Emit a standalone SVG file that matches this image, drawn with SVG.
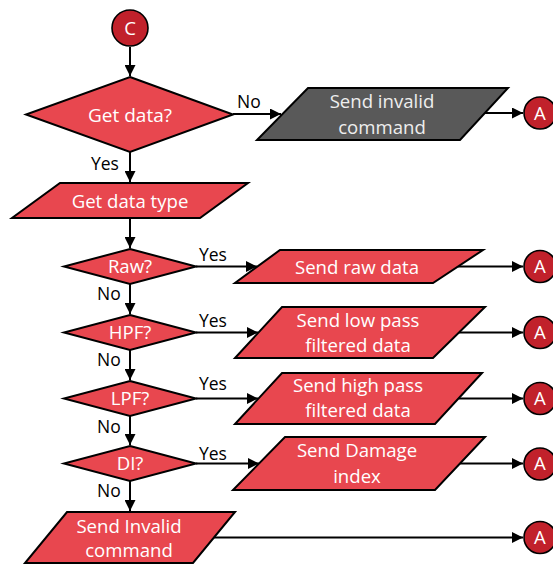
<svg xmlns="http://www.w3.org/2000/svg" width="553" height="567" viewBox="0 0 553 567">
  <style>
    .shape { fill: #E8474F; stroke: #000; stroke-width: 2; stroke-linejoin: miter; }
    .grey { fill: #595959; stroke: #000; stroke-width: 2; }
    .conn { fill: #C1212B; stroke: #000; stroke-width: 1.6; }
    .t { font-family: "Open Sans", "Noto Sans", sans-serif; font-size: 18.6px; fill: #fff; text-anchor: middle; }
    .tg { fill: #eeeeee; }
    .lbl { font-family: "Open Sans", "Noto Sans", sans-serif; font-size: 17.5px; fill: #000; }
    .edge { stroke: #000; stroke-width: 2; fill: none; marker-end: url(#ah); }
  </style>
  <defs>
    <marker id="ah" viewBox="0 0 10 10" refX="10" refY="5" markerWidth="5.5" markerHeight="5.5" orient="auto" markerUnits="strokeWidth">
      <path d="M0,0 L10,5 L0,10 z" fill="#000"/>
    </marker>
  </defs>
  <rect width="553" height="567" fill="#fff"/>

  <!-- connectors -->
  <g id="connectors">
    <path class="edge" d="M130,47 V76"/>
    <path class="edge" d="M233,114 H281"/>
    <path class="edge" d="M484,113 H523"/>
    <path class="edge" d="M130,152 V182"/>
    <path class="edge" d="M130,218 V248"/>
    <path class="edge" d="M196,266.5 H257"/>
    <path class="edge" d="M458,266.5 H523"/>
    <path class="edge" d="M130,284 V314"/>
    <path class="edge" d="M196,332.5 H258"/>
    <path class="edge" d="M459,332.5 H523"/>
    <path class="edge" d="M130,350 V380"/>
    <path class="edge" d="M196,398.5 H258"/>
    <path class="edge" d="M459,398.5 H523"/>
    <path class="edge" d="M130,416 V445"/>
    <path class="edge" d="M196,463.5 H259"/>
    <path class="edge" d="M460,463.5 H523"/>
    <path class="edge" d="M130,481 V511"/>
    <path class="edge" d="M214,537.5 H523"/>
    <text class="lbl" x="237" y="108">No</text>
    <text class="lbl" x="91" y="170">Yes</text>
    <text class="lbl" x="199" y="261">Yes</text>
    <text class="lbl" x="97" y="300">No</text>
    <text class="lbl" x="199" y="327">Yes</text>
    <text class="lbl" x="97" y="366">No</text>
    <text class="lbl" x="199" y="390">Yes</text>
    <text class="lbl" x="97" y="433">No</text>
    <text class="lbl" x="199" y="460">Yes</text>
    <text class="lbl" x="97" y="497">No</text>
  </g>

  <g id="start-c">
    <circle class="conn" cx="130" cy="28" r="18"/>
    <text class="t" x="130" y="35">C</text>
  </g>

  <g id="get-data">
    <polygon class="shape" points="130,77 233,114.5 130,152 26,114.5"/>
    <text class="t" x="130" y="122" style="font-size:19px">Get data?</text>
  </g>

  <g id="send-invalid-grey">
    <polygon class="grey" points="308,88 508,88 460,140 257,140"/>
    <text class="t tg" x="382" y="108">Send invalid</text>
    <text class="t tg" x="382" y="134">command</text>
  </g>

  <g id="get-data-type">
    <polygon class="shape" points="60,183 248,183 200,218 12,218"/>
    <text class="t" x="130" y="208">Get data type</text>
  </g>

  <g id="raw">
    <polygon class="shape" points="130,249 196,266.5 130,284 64,266.5"/>
    <text class="t" x="130" y="273">Raw?</text>
  </g>
  <g id="send-raw">
    <polygon class="shape" points="280,250 483,250 433,283 235,283"/>
    <text class="t" x="357" y="274">Send raw data</text>
  </g>

  <g id="hpf">
    <polygon class="shape" points="130,315 196,332.5 130,350 64,332.5"/>
    <text class="t" x="130" y="339">HPF?</text>
  </g>
  <g id="send-low-pass">
    <polygon class="shape" points="282,307 485,307 433,358 235,358"/>
    <text class="t" x="358" y="327">Send low pass</text>
    <text class="t" x="358" y="352">filtered data</text>
  </g>

  <g id="lpf">
    <polygon class="shape" points="130,381 196,398.5 130,416 64,398.5"/>
    <text class="t" x="130" y="405">LPF?</text>
  </g>
  <g id="send-high-pass">
    <polygon class="shape" points="282,373 482,373 435,424 235,424"/>
    <text class="t" x="358" y="392">Send high pass</text>
    <text class="t" x="358" y="417">filtered data</text>
  </g>

  <g id="di">
    <polygon class="shape" points="130,446 196,463.5 130,481 64,463.5"/>
    <text class="t" x="130" y="470">DI?</text>
  </g>
  <g id="send-damage">
    <polygon class="shape" points="285,437 485,437 435,490 233,490"/>
    <text class="t" x="357" y="457">Send Damage</text>
    <text class="t" x="357" y="483">index</text>
  </g>

  <g id="send-invalid">
    <polygon class="shape" points="67,512 235,512 193,563 25,563"/>
    <text class="t" x="129" y="533">Send Invalid</text>
    <text class="t" x="129" y="557">command</text>
  </g>

  <g id="a1"><circle class="conn" cx="540" cy="113" r="16"/><text class="t" x="540" y="120">A</text></g>
  <g id="a2"><circle class="conn" cx="540" cy="266.5" r="16"/><text class="t" x="540" y="273">A</text></g>
  <g id="a3"><circle class="conn" cx="540" cy="332.5" r="16"/><text class="t" x="540" y="339">A</text></g>
  <g id="a4"><circle class="conn" cx="540" cy="398.5" r="16"/><text class="t" x="540" y="405">A</text></g>
  <g id="a5"><circle class="conn" cx="540" cy="464" r="16"/><text class="t" x="540" y="470">A</text></g>
  <g id="a6"><circle class="conn" cx="540" cy="537.5" r="16"/><text class="t" x="540" y="544">A</text></g>
</svg>
